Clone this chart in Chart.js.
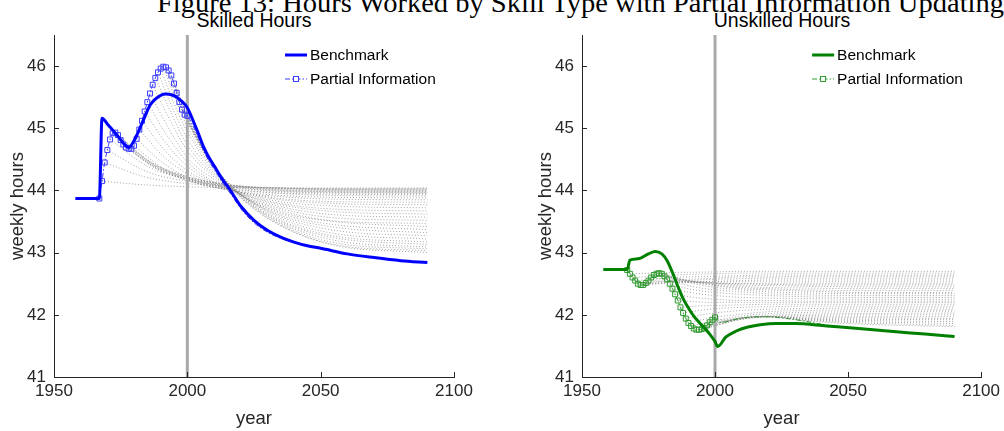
<!DOCTYPE html>
<html>
<head>
<meta charset="utf-8">
<script src="https://cdn.jsdelivr.net/npm/chart.js@4.4.0/dist/chart.umd.min.js"></script>
<style>
  html, body { margin: 0; padding: 0; background: #fff; }
  body { width: 1004px; height: 431px; position: relative; overflow: hidden; }
  canvas { position: absolute; top: 0; }
  #fig-title {
    position: absolute; left: 157px; top: -10px; display: inline-block;
    font: 27px "Liberation Serif", "Times New Roman", serif; line-height: 27px;
    white-space: nowrap; color: #000; transform-origin: 0 0;
  }
  .panel-title {
    position: absolute; top: 8px; width: 400px; text-align: center;
    font: 19.5px "Liberation Sans", Arial, sans-serif; line-height: 24px; color: #000;
  }
</style>
</head>
<body>
<div id="fig-title">Figure 13: Hours Worked by Skill Type with Partial Information Updating</div>
<div class="panel-title" style="left:54px">Skilled Hours</div>
<div class="panel-title" style="left:582px">Unskilled Hours</div>
<canvas id="skilled" width="528" height="431" style="left:0"></canvas>
<canvas id="unskilled" width="476" height="431" style="left:528px"></canvas>
<script>
// ---- axes ----
const xTicks = [1950, 2000, 2050, 2100];
const yTicks = [41, 42, 43, 44, 45, 46];
const yRange = [41, 46.5];
const updateYear = 2000;

// years at which every updated-expectation path is sampled after its start
const fanYears = [2000, 2010, 2020, 2035, 2055, 2090];

// ---- skilled hours ----
const skilledBenchYears = [1958, 1967, 1968, 1970, 1972, 1974, 1976, 1978, 1980, 1982,
  1984, 1986, 1988, 1990, 1992, 1994, 1996, 1998, 2000, 2002, 2004, 2006, 2008, 2010,
  2013, 2016, 2020, 2025, 2030, 2035, 2040, 2045, 2050, 2060, 2070, 2080, 2090];
const skilledBenchHours = [43.87, 43.87, 45.16, 45.07, 44.97, 44.87, 44.76, 44.69, 44.80, 44.98,
  45.18, 45.37, 45.47, 45.53, 45.55, 45.54, 45.50, 45.43, 45.33, 45.14, 44.93, 44.71, 44.54, 44.40,
  44.19, 44.01, 43.75, 43.52, 43.36, 43.25, 43.17, 43.11, 43.07, 42.98, 42.92, 42.87, 42.84];

const skilledPartialYears = [1967, 1968, 1969, 1970, 1971, 1972, 1973, 1974, 1975, 1976,
  1977, 1978, 1979, 1980, 1981, 1982, 1983, 1984, 1985, 1986, 1987, 1988, 1989, 1990,
  1991, 1992, 1993, 1994, 1995, 1996, 1997, 1998, 1999, 2000,
  2002, 2004, 2006, 2008, 2010, 2013, 2016, 2020, 2025, 2030, 2035, 2040,
  2050, 2060, 2070, 2080, 2090];
const skilledPartialHours = [43.87, 44.15, 44.45, 44.65, 44.82, 44.92, 44.93, 44.89, 44.81, 44.74,
  44.69, 44.67, 44.67, 44.72, 44.83, 44.98, 45.12, 45.27, 45.42, 45.56, 45.70, 45.81, 45.90, 45.96,
  45.99, 45.98, 45.93, 45.85, 45.72, 45.57, 45.42, 45.30, 45.22, 45.20,
  45.05, 44.86, 44.65, 44.48, 44.35, 44.14, 43.96, 43.71, 43.48, 43.33, 43.23, 43.16,
  43.07, 42.98, 42.92, 42.87, 42.85];

// each row: update year, intermediate year, hours there, then hours at fanYears
const skilledFan = [
  [1968, 1984, 44.09, 44.06, 44.05, 44.05, 44.04, 44.04, 44.04],
  [1969, 1984, 44.22, 44.11, 44.08, 44.06, 44.04, 44.03, 44.03],
  [1970, 1985, 44.30, 44.15, 44.10, 44.06, 44.04, 44.02, 44.02],
  [1971, 1985, 44.39, 44.18, 44.12, 44.07, 44.04, 44.02, 44.01],
  [1972, 1986, 44.43, 44.21, 44.13, 44.07, 44.03, 44.01, 44.00],
  [1973, 1986, 44.46, 44.22, 44.13, 44.07, 44.02, 44.00, 43.99],
  [1974, 1987, 44.44, 44.22, 44.12, 44.06, 44.01, 43.99, 43.98],
  [1975, 1987, 44.42, 44.20, 44.10, 44.05, 44.00, 43.98, 43.97],
  [1976, 1988, 44.37, 44.19, 44.09, 44.04, 43.99, 43.97, 43.96],
  [1977, 1988, 44.36, 44.18, 44.08, 44.03, 43.98, 43.96, 43.95],
  [1978, 1989, 44.34, 44.17, 44.06, 44.01, 43.96, 43.94, 43.93],
  [1979, 1989, 44.37, 44.16, 44.05, 44.00, 43.95, 43.92, 43.91],
  [1980, 1990, 44.38, 44.17, 44.05, 43.98, 43.92, 43.89, 43.88],
  [1981, 1990, 44.47, 44.21, 44.06, 43.97, 43.90, 43.86, 43.85],
  [1982, 1991, 44.55, 44.27, 44.08, 43.97, 43.87, 43.82, 43.81],
  [1983, 1991, 44.67, 44.32, 44.10, 43.97, 43.85, 43.79, 43.77],
  [1984, 1992, 44.76, 44.39, 44.12, 43.96, 43.82, 43.75, 43.72],
  [1985, 1992, 44.91, 44.46, 44.14, 43.95, 43.79, 43.70, 43.67],
  [1986, 1993, 45.00, 44.53, 44.18, 43.95, 43.77, 43.66, 43.62],
  [1987, 1993, 45.17, 44.64, 44.22, 43.94, 43.74, 43.61, 43.57],
  [1988, 1994, 45.24, 44.73, 44.25, 43.93, 43.71, 43.56, 43.52],
  [1989, 1994, 45.37, 44.83, 44.28, 43.93, 43.68, 43.51, 43.47],
  [1990, 1995, 45.40, 44.94, 44.31, 43.93, 43.65, 43.50, 43.42],
  [1991, 1995, 45.54, 45.02, 44.34, 43.93, 43.63, 43.45, 43.37],
  [1992, 1996, 45.53, 45.10, 44.36, 43.93, 43.60, 43.41, 43.32],
  [1993, 1996, 45.61, 45.16, 44.40, 43.95, 43.58, 43.36, 43.27],
  [1994, 1997, 45.53, 45.19, 44.40, 43.94, 43.55, 43.31, 43.22],
  [1995, 1997, 45.52, 45.16, 44.39, 43.93, 43.52, 43.27, 43.17],
  [1996, null, null, 45.16, 44.38, 43.92, 43.50, 43.24, 43.13],
  [1997, null, null, 45.14, 44.37, 43.91, 43.48, 43.20, 43.09],
  [1998, null, null, 45.12, 44.36, 43.90, 43.46, 43.16, 43.06],
  [1999, null, null, 45.13, 44.36, 43.89, 43.44, 43.13, 43.03],
  [2000, null, null, null, 44.36, 43.88, 43.43, 43.12, 43.00]
];

// ---- unskilled hours ----
const unskilledBenchYears = [1958, 1967, 1968, 1971, 1975, 1977.5, 1980, 1982, 1984, 1986,
  1988, 1990, 1992, 1994, 1996, 1998, 2000, 2001, 2004, 2008, 2012, 2017, 2023, 2030,
  2042, 2054, 2067, 2079, 2090];
const unskilledBenchHours = [42.73, 42.73, 42.88, 42.90, 42.98, 43.02, 42.98, 42.87, 42.68, 42.46,
  42.26, 42.11, 41.98, 41.88, 41.79, 41.69, 41.57, 41.49, 41.64, 41.74, 41.80, 41.84, 41.86, 41.86,
  41.82, 41.78, 41.73, 41.69, 41.65];

const unskilledPartialYears = [1967, 1968, 1969, 1970, 1971, 1972, 1973, 1974, 1975, 1976,
  1977, 1978, 1979, 1980, 1981, 1982, 1983, 1984, 1985, 1986, 1987, 1988, 1989, 1990,
  1991, 1992, 1993, 1994, 1995, 1996, 1997, 1998, 1999, 2000,
  2001, 2003, 2007, 2012, 2018, 2025, 2032, 2040, 2048, 2054, 2067, 2079, 2090];
const unskilledPartialHours = [42.72, 42.66, 42.60, 42.55, 42.50, 42.48, 42.48, 42.51, 42.55, 42.60,
  42.64, 42.66, 42.67, 42.66, 42.62, 42.57, 42.50, 42.42, 42.33, 42.23, 42.12, 42.03, 41.94, 41.87,
  41.82, 41.78, 41.76, 41.76, 41.77, 41.79, 41.83, 41.88, 41.92, 41.96,
  41.89, 41.88, 41.92, 41.96, 41.97, 41.95, 41.91, 41.85, 41.80, 41.78, 41.73, 41.69, 41.65];

const unskilledFan = [
  [1968, 1984, 42.68, 42.69, 42.70, 42.70, 42.70, 42.70, 42.70],
  [1969, 1984, 42.64, 42.66, 42.67, 42.67, 42.67, 42.67, 42.67],
  [1970, 1985, 42.60, 42.62, 42.63, 42.64, 42.64, 42.64, 42.64],
  [1971, 1985, 42.56, 42.59, 42.61, 42.61, 42.62, 42.62, 42.62],
  [1972, 1986, 42.54, 42.57, 42.58, 42.59, 42.59, 42.59, 42.59],
  [1973, 1986, 42.52, 42.54, 42.55, 42.56, 42.56, 42.56, 42.56],
  [1974, 1987, 42.52, 42.53, 42.53, 42.53, 42.53, 42.53, 42.53],
  [1975, 1987, 42.53, 42.51, 42.50, 42.50, 42.50, 42.50, 42.50],
  [1976, 1988, 42.54, 42.51, 42.50, 42.49, 42.48, 42.48, 42.48],
  [1977, 1988, 42.56, 42.51, 42.48, 42.47, 42.46, 42.45, 42.45],
  [1978, 1989, 42.55, 42.50, 42.46, 42.44, 42.43, 42.42, 42.42],
  [1979, 1989, 42.56, 42.48, 42.44, 42.42, 42.40, 42.39, 42.39],
  [1980, 1990, 42.54, 42.47, 42.42, 42.40, 42.38, 42.36, 42.36],
  [1981, 1990, 42.52, 42.44, 42.40, 42.37, 42.35, 42.34, 42.34],
  [1982, 1991, 42.46, 42.40, 42.37, 42.34, 42.32, 42.31, 42.31],
  [1983, 1991, 42.41, 42.36, 42.33, 42.31, 42.29, 42.28, 42.28],
  [1984, 1992, 42.35, 42.31, 42.28, 42.27, 42.26, 42.25, 42.25],
  [1985, 1992, 42.28, 42.25, 42.23, 42.23, 42.22, 42.22, 42.22],
  [1986, 1993, 42.21, 42.20, 42.20, 42.20, 42.20, 42.20, 42.20],
  [1987, 1993, 42.14, 42.15, 42.16, 42.17, 42.17, 42.17, 42.17],
  [1988, 1994, 42.07, 42.10, 42.12, 42.13, 42.14, 42.14, 42.14],
  [1989, 1994, 41.99, 42.03, 42.07, 42.09, 42.10, 42.11, 42.11],
  [1990, 1995, 41.92, 41.96, 42.01, 42.05, 42.07, 42.08, 42.08],
  [1991, 1995, 41.86, 41.91, 41.98, 42.02, 42.04, 42.05, 42.06],
  [1992, 1996, 41.82, 41.86, 41.95, 41.99, 42.01, 42.02, 42.03],
  [1993, 1996, 41.79, 41.83, 41.93, 41.97, 41.99, 42.00, 42.00],
  [1994, 1997, 41.79, 41.82, 41.93, 41.97, 41.97, 41.97, 41.97],
  [1995, 1997, 41.79, 41.83, 41.93, 41.97, 41.95, 41.95, 41.94],
  [1996, null, null, 41.85, 41.94, 41.97, 41.94, 41.93, 41.92],
  [1997, null, null, 41.86, 41.95, 41.97, 41.93, 41.91, 41.89],
  [1998, null, null, 41.88, 41.95, 41.97, 41.92, 41.89, 41.86],
  [1999, null, null, 41.91, 41.95, 41.97, 41.91, 41.87, 41.83],
  [2000, 2004, 41.90, null, 41.95, 41.97, 41.90, 41.85, 41.81]
];

// ---- helpers ----
const sansFont = '"Liberation Sans", Arial, Helvetica, sans-serif';
const axisInk = '#262626';

function toPoints(xs, ys) {
  return xs.map((x, i) => ({ x: x, y: ys[i] }));
}

// each path starts at the partial-information value of its update year
function fanPaths(rows, pYears, pHours) {
  return rows.map(row => {
    const [t, midYear, midVal, ...vals] = row;
    const pts = [{ x: t, y: pHours[pYears.indexOf(t)] }];
    if (midYear !== null) pts.push({ x: midYear, y: midVal });
    fanYears.forEach((yr, i) => {
      if (vals[i] !== null && yr > t && (midYear === null || yr > midYear)) pts.push({ x: yr, y: vals[i] });
    });
    return pts;
  });
}

// MATLAB-style tick marks pointing into the plot
const inwardTicks = {
  id: 'inwardTicks',
  afterDatasetsDraw(chart) {
    const { ctx, chartArea: a, scales: { x, y } } = chart;
    ctx.save();
    ctx.strokeStyle = axisInk;
    ctx.lineWidth = 1;
    ctx.beginPath();
    xTicks.forEach(v => {
      const px = Math.round(x.getPixelForValue(v)) + 0.5;
      ctx.moveTo(px, a.bottom);
      ctx.lineTo(px, a.bottom - 5);
    });
    yTicks.forEach(v => {
      const py = Math.round(y.getPixelForValue(v)) + 0.5;
      ctx.moveTo(a.left, py);
      ctx.lineTo(a.left + 5, py);
    });
    ctx.stroke();
    ctx.restore();
  }
};

// legend with line samples in the upper-right corner
const lineLegend = {
  id: 'lineLegend',
  afterDraw(chart) {
    const { ctx, chartArea: a } = chart;
    chart.data.datasets.slice(0, 2).forEach((ds, i) => {
      const y = a.top + 20 + i * 24;
      const x0 = a.right - 169, x1 = a.right - 147;
      ctx.save();
      ctx.strokeStyle = ds.borderColor;
      ctx.lineWidth = ds.borderWidth;
      ctx.setLineDash(ds.borderDash || []);
      ctx.beginPath();
      ctx.moveTo(x0, y);
      ctx.lineTo(x1, y);
      ctx.stroke();
      if (ds.pointStyle === 'rect') {
        const xc = (x0 + x1) / 2;
        ctx.setLineDash([]);
        ctx.lineWidth = 1;
        ctx.fillStyle = '#fff';
        ctx.fillRect(xc - 2.5, y - 2.5, 5, 5);
        ctx.strokeRect(xc - 2.5, y - 2.5, 5, 5);
      }
      ctx.fillStyle = '#000';
      ctx.font = '15.5px ' + sansFont;
      ctx.textBaseline = 'middle';
      ctx.textAlign = 'left';
      ctx.fillText(ds.label, a.right - 144, y + 1);
      ctx.restore();
    });
  }
};

function buildPanel(canvasId, cfg) {
  const datasets = [
    {
      label: 'Benchmark',
      data: toPoints(cfg.benchYears, cfg.benchHours),
      borderColor: cfg.benchColor, borderWidth: 3, pointRadius: 0,
      cubicInterpolationMode: 'monotone', fill: false
    },
    {
      label: 'Partial Information',
      data: toPoints(cfg.partialYears, cfg.partialHours),
      borderColor: cfg.partialColor, borderWidth: 1, borderDash: [5, 2, 1.5, 2],
      pointStyle: 'rect',
      pointRadius: ctx => (ctx.raw && ctx.raw.x <= updateYear) ? 3.5 : 0,
      pointBorderColor: cfg.partialColor, pointBackgroundColor: 'rgba(0,0,0,0)',
      pointBorderWidth: 1, cubicInterpolationMode: 'monotone', fill: false
    },
    {
      label: 'update',
      data: [{ x: updateYear, y: yRange[0] }, { x: updateYear, y: yRange[1] }],
      borderColor: '#a9a9a9', borderWidth: 3, pointRadius: 0, fill: false
    }
  ];
  fanPaths(cfg.fan, cfg.partialYears, cfg.partialHours).forEach(path => {
    datasets.push({
      label: '', data: path,
      borderColor: 'rgba(125,125,125,0.7)', borderWidth: 1, borderDash: [1, 2],
      pointRadius: 0, cubicInterpolationMode: 'monotone', fill: false
    });
  });

  return new Chart(document.getElementById(canvasId), {
    type: 'line',
    data: { datasets: datasets },
    plugins: [inwardTicks, lineLegend],
    options: {
      responsive: false, animation: false, devicePixelRatio: 1, events: [],
      layout: { padding: { top: 35, right: cfg.padRight, bottom: 0, left: 0 } },
      plugins: { legend: { display: false }, tooltip: { enabled: false } },
      scales: {
        x: {
          type: 'linear', min: 1950, max: 2100,
          afterFit: s => { s.height = 54; },
          afterBuildTicks: s => { s.ticks = xTicks.map(v => ({ value: v })); },
          grid: { display: false, drawTicks: false },
          border: { display: true, color: axisInk, width: 1 },
          ticks: {
            color: axisInk, font: { family: sansFont, size: 17 }, padding: 4,
            maxRotation: 0, autoSkip: false, callback: v => String(v)
          },
          title: {
            display: true, text: 'year', color: axisInk,
            font: { family: sansFont, size: 18.5 }, padding: { top: 0, bottom: 1 }
          }
        },
        y: {
          type: 'linear', min: yRange[0], max: yRange[1],
          afterFit: s => { s.width = 54; },
          afterBuildTicks: s => { s.ticks = yTicks.map(v => ({ value: v })); },
          grid: { display: false, drawTicks: false },
          border: { display: true, color: axisInk, width: 1 },
          ticks: {
            color: axisInk, font: { family: sansFont, size: 17 }, padding: 8,
            callback: v => String(v)
          },
          title: {
            display: true, text: 'weekly hours', color: axisInk,
            font: { family: sansFont, size: 18.5 }, padding: { top: 7, bottom: 0 }
          }
        }
      }
    }
  });
}

buildPanel('skilled', {
  benchYears: skilledBenchYears, benchHours: skilledBenchHours,
  partialYears: skilledPartialYears, partialHours: skilledPartialHours,
  fan: skilledFan, benchColor: '#0000ff', partialColor: '#3d3dff', padRight: 74
});
buildPanel('unskilled', {
  benchYears: unskilledBenchYears, benchHours: unskilledBenchHours,
  partialYears: unskilledPartialYears, partialHours: unskilledPartialHours,
  fan: unskilledFan, benchColor: '#008000', partialColor: '#2e9a2e', padRight: 22
});

// stretch the figure heading so it runs to the right edge
const heading = document.getElementById('fig-title');
const headingWidth = heading.getBoundingClientRect().width;
heading.style.transform = 'scaleX(' + (847 / headingWidth) + ')';
</script>
</body>
</html>
